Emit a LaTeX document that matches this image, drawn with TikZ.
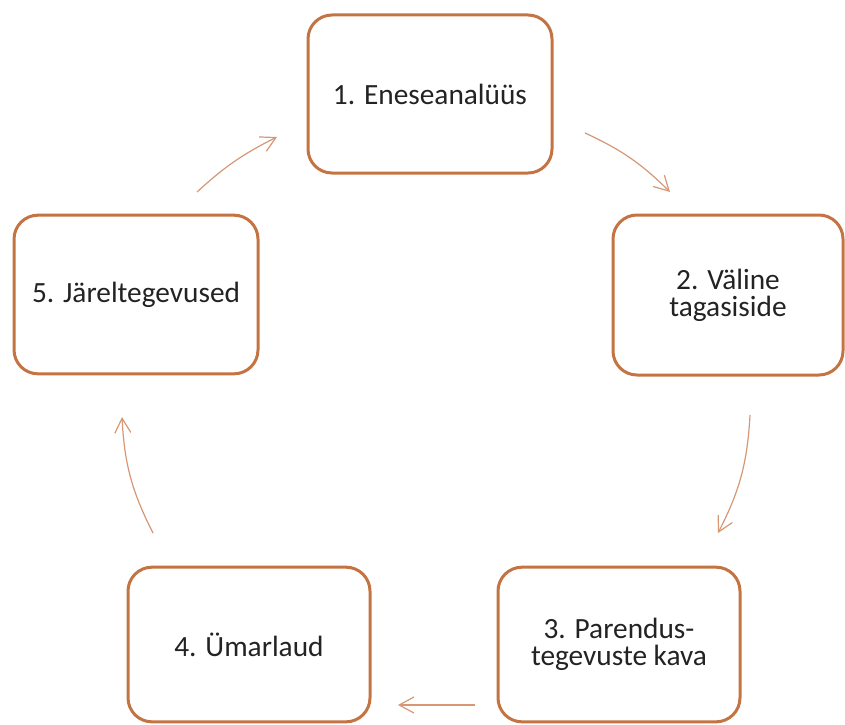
\documentclass[tikz,border=0pt]{standalone}
\usepackage{fontspec}
\setmainfont{Carlito}
\usetikzlibrary{arrows.meta}
\definecolor{boxcolor}{RGB}{196,116,66}
\definecolor{arrowcolor}{RGB}{214,152,116}
\definecolor{labelcolor}{RGB}{35,35,35}

\begin{document}
\begin{tikzpicture}[x=0.75pt,y=-0.75pt,
    stage/.style={draw=boxcolor,line width=2.25pt,rounded corners=18pt,fill=white,
        align=center,text=labelcolor,inner sep=0pt,
        font=\fontsize{22}{20.5}\selectfont},
    cycarrow/.style={draw=arrowcolor,line width=0.9pt,
        -{Straight Barb[length=11pt,width=12pt]}}]
    % Page size
    \useasboundingbox (0,0) rectangle (845,724);

    % Stages of the cycle
    \node[stage,minimum width=183pt,minimum height=118.5pt] (analyys) at (430,94) {1. Eneseanalüüs};
    \node[stage,minimum width=172.5pt,minimum height=120pt] (tagasiside) at (728,295) {2. Väline\\tagasiside};
    \node[stage,minimum width=181.5pt,minimum height=116pt] (kava) at (619,644.5) {3. Parendus-\\tegevuste kava};
    \node[stage,minimum width=181.5pt,minimum height=116pt] (ymarlaud) at (249,644.5) {4. Ümarlaud};
    \node[stage,minimum width=183pt,minimum height=119pt] (jareltegevus) at (136,294.5) {5. Järeltegevused};

    % Arrow ends
    \coordinate (s12) at (585,133);  \coordinate (e12) at (670,192);
    \coordinate (s23) at (750,415);  \coordinate (e23) at (718,533);
    \coordinate (s34) at (475,705);  \coordinate (e34) at (398,705);
    \coordinate (s45) at (153,533);  \coordinate (e45) at (122,417);
    \coordinate (s51) at (197,192);  \coordinate (e51) at (277,137);

    % Arrows of the cycle
    \draw[cycarrow] (s12) to[bend left=10] (e12);
    \draw[cycarrow] (s23) to[bend left=12] (e23);
    \draw[cycarrow] (s34) -- (e34);
    \draw[cycarrow] (s45) to[bend left=12] (e45);
    \draw[cycarrow] (s51) to[bend left=8] (e51);
\end{tikzpicture}
\end{document}
